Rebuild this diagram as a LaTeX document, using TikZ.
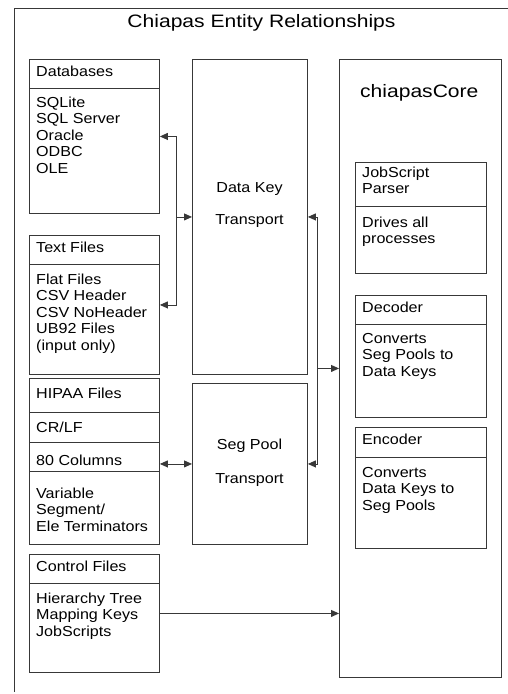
\documentclass[tikz,border=0pt]{standalone}
\usepackage{fontspec}
\setmainfont{Liberation Sans}[FakeStretch=1.11]
\newfontfamily\bigfont{Liberation Sans}[FakeStretch=1.17]
\usetikzlibrary{arrows.meta,calc}
\definecolor{linegray}{HTML}{383838}

\begin{document}
\begin{tikzpicture}[x=1pt,y=-1pt,
    >={Triangle[length=8pt,width=7pt]},
    box/.style={draw=linegray, line width=0.9pt, inner sep=0pt, anchor=north west},
    entry/.style={anchor=base west, inner sep=0pt, align=left, font=\fontsize{14.5}{16.6}\selectfont},
    link/.style={draw=linegray, line width=0.9pt}]
    \useasboundingbox (0,0) rectangle (508,694);

    % frame and title
    \draw[link] (14,692) -- (14,8) -- (508,8);
    \node[anchor=base, inner sep=0pt, font=\bigfont\fontsize{18}{20}\selectfont] (title) at (261.5,27) {Chiapas Entity Relationships};

    % left column: data sources (multi-line texts sit on their last baseline)
    \node[box, minimum width=130pt, minimum height=154pt] (db) at (29,59) {};
    \draw[link] (db.west |- 0,88) -- (db.east |- 0,88);
    \node[entry] (dbhead) at (36,76) {Databases};
    \node[entry] (dbbody) at (36,173.4) {SQLite\\SQL Server\\Oracle\\ODBC\\OLE};

    \node[box, minimum width=130pt, minimum height=139pt] (txt) at (29,235) {};
    \draw[link] (txt.west |- 0,264) -- (txt.east |- 0,264);
    \node[entry] (txthead) at (36,252) {Text Files};
    \node[entry] (txtbody) at (36,350.4) {Flat Files\\CSV Header\\CSV NoHeader\\UB92 Files\\(input only)};

    \node[box, minimum width=130pt, minimum height=166pt] (hipaa) at (29,378) {};
    \draw[link] (hipaa.west |- 0,412) -- (hipaa.east |- 0,412);
    \draw[link] (hipaa.west |- 0,442) -- (hipaa.east |- 0,442);
    \draw[link] (hipaa.west |- 0,471) -- (hipaa.east |- 0,471);
    \node[entry] (hipaahead) at (36,398) {HIPAA Files};
    \node[entry] (crlf) at (36,432) {CR/LF};
    \node[entry] (cols) at (36,465) {80 Columns};
    \node[entry] (hipaabody) at (36,531.2) {Variable\\Segment/\\Ele Terminators};

    \node[box, minimum width=130pt, minimum height=118pt] (ctrl) at (29,554) {};
    \draw[link] (ctrl.west |- 0,583) -- (ctrl.east |- 0,583);
    \node[entry] (ctrlhead) at (36,571) {Control Files};
    \node[entry] (ctrlbody) at (36,636.2) {Hierarchy Tree\\Mapping Keys\\JobScripts};

    % middle column: transports
    \node[box, minimum width=115pt, minimum height=315pt] (dk) at (192,59) {};
    \node[entry, anchor=base] (dkname) at (249.5,192) {Data Key};
    \node[entry, anchor=base] (dktrans) at (249.5,224) {Transport};

    \node[box, minimum width=115pt, minimum height=161pt] (sp) at (192,383) {};
    \node[entry, anchor=base] (spname) at (249.5,449) {Seg Pool};
    \node[entry, anchor=base] (sptrans) at (249.5,483) {Transport};

    % right column: core
    \node[box, minimum width=162pt, minimum height=618pt] (core) at (339,59) {};
    \node[anchor=base west, inner sep=0pt, font=\bigfont\fontsize{18}{20}\selectfont] (corename) at (360,97) {chiapasCore};

    \node[box, minimum width=131pt, minimum height=111pt] (parser) at (355,162) {};
    \draw[link] (parser.west |- 0,206) -- (parser.east |- 0,206);
    \node[entry] (parserhead) at (362,193.6) {JobScript\\Parser};
    \node[entry] (parserbody) at (362,243.6) {Drives all\\processes};

    \node[box, minimum width=131pt, minimum height=122pt] (dec) at (355,295) {};
    \draw[link] (dec.west |- 0,324) -- (dec.east |- 0,324);
    \node[entry] (dechead) at (362,312) {Decoder};
    \node[entry] (decbody) at (362,376.2) {Converts\\Seg Pools to\\Data Keys};

    \node[box, minimum width=131pt, minimum height=121pt] (enc) at (355,427) {};
    \draw[link] (enc.west |- 0,457) -- (enc.east |- 0,457);
    \node[entry] (enchead) at (362,444) {Encoder};
    \node[entry] (encbody) at (362,510.2) {Converts\\Data Keys to\\Seg Pools};

    % connectors
    \coordinate (lbus) at ($(db.east)!0.5!(dk.west)$);
    \draw[link,<->] (db.east) -| (lbus) |- (txt.east);
    \draw[link,->] (lbus |- dk.west) -- (dk.west);
    \draw[link,<->] (hipaa.east |- sp.west) -- (sp.west);
    \coordinate (rbus) at ($(dk.east)!0.3!(core.west)$);
    \draw[link,<->] (dk.east) -| (rbus) |- (sp.east);
    \draw[link,->] (rbus |- core.west) -- (core.west);
    \draw[link,->] (ctrl.east) -- (ctrl.east -| core.west);
\end{tikzpicture}
\end{document}
